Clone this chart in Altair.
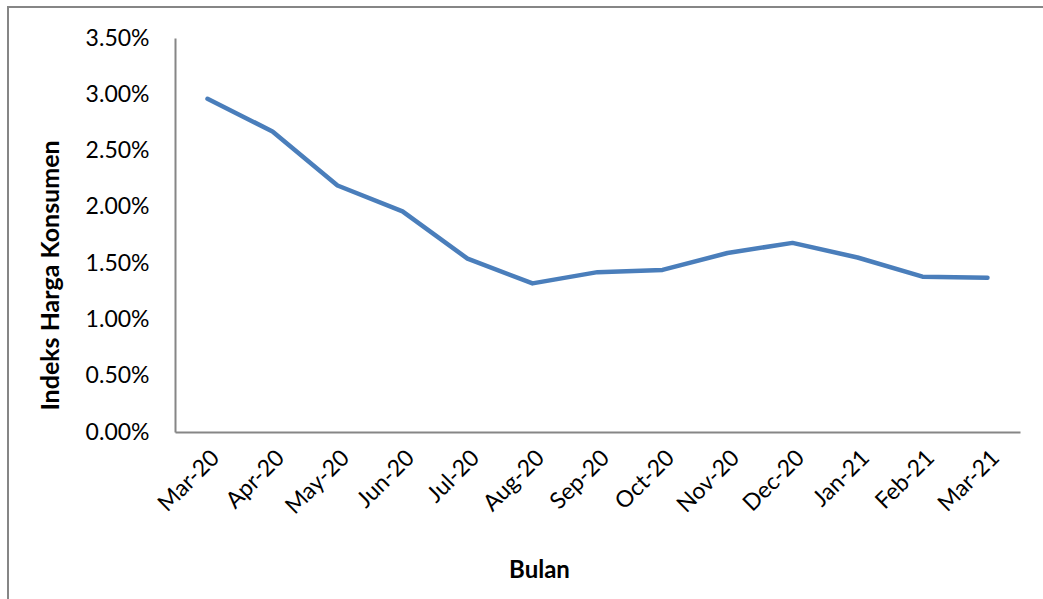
import altair as alt
import pandas as pd

months = ["Mar-20", "Apr-20", "May-20", "Jun-20", "Jul-20", "Aug-20", "Sep-20",
          "Oct-20", "Nov-20", "Dec-20", "Jan-21", "Feb-21", "Mar-21"]
ihk = [0.0296, 0.0267, 0.0219, 0.0196, 0.0154, 0.0132, 0.0142,
       0.0144, 0.0159, 0.0168, 0.0155, 0.0138, 0.0137]

df = pd.DataFrame({"Bulan": months, "IHK": ihk})

FONT = "Lato"

line = alt.Chart(df).mark_line(color="#4a7ebb", strokeWidth=4.5, strokeCap="round", strokeJoin="round").encode(
    x=alt.X("Bulan:O", sort=months, scale=alt.Scale(padding=0.5),
            axis=alt.Axis(title="Bulan", labelAngle=-45, labelAlign="right", labelBaseline="top",
                          labelFontSize=23, labelPadding=14, ticks=False, domainColor="#868686",
                          domainWidth=2, titleFontSize=24, titleFontWeight="bold",
                          titleX=364, titleY=138, titleBaseline="middle", titleAnchor="middle")),
    y=alt.Y("IHK:Q", scale=alt.Scale(domain=[0, 0.035], nice=False),
            axis=alt.Axis(title="Indeks Harga Konsumen", format=".2%", values=[0, 0.005, 0.01, 0.015, 0.02, 0.025, 0.03, 0.035],
                          labelFontSize=23, labelPadding=26, ticks=False, grid=False,
                          domainColor="#868686", domainWidth=2, titleFontSize=25, titleFontWeight="bold",
                          titleX=-125, titleY=237, titleAngle=-90, titleAlign="center",
                          titleBaseline="middle")),
)

border = alt.Chart(pd.DataFrame({"a": [0]})).mark_rect(fill=None, stroke="#868686", strokeWidth=2).encode(
    x=alt.value(-167), x2=alt.value(1000), y=alt.value(-31), y2=alt.value(700)
)

chart = alt.layer(border, line).properties(
    width=845, height=394,
    autosize=alt.AutoSizeParams(type="none"),
    padding={"left": 175, "top": 38, "right": 23, "bottom": 167},
).configure_view(stroke=None).configure_axis(
    labelFont=FONT, titleFont=FONT, labelColor="black", titleColor="black", grid=False
)

chart.save("out.html", embed_options={"renderer": "svg", "actions": False})
